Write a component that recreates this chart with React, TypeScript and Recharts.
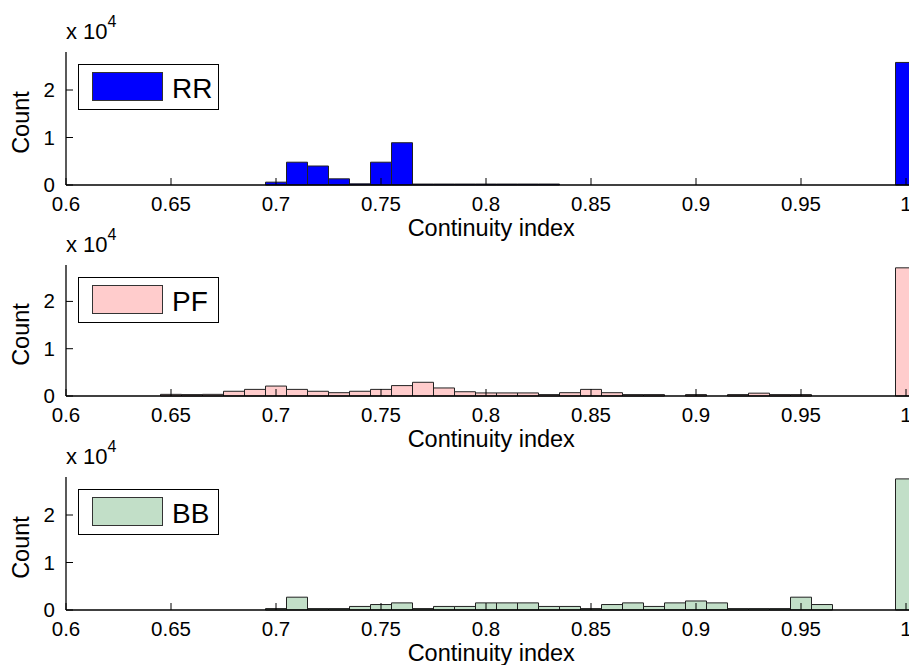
import { BarChart, Bar, XAxis, YAxis, Legend } from "recharts";

// histogram bin centres (bin width 0.01)
const BIN_CENTERS = [
  0.65, 0.66, 0.67, 0.68, 0.69, 0.7, 0.71, 0.72, 0.73, 0.74, 0.75, 0.76,
  0.77, 0.78, 0.79, 0.8, 0.81, 0.82, 0.83, 0.84, 0.85, 0.86, 0.87, 0.88,
  0.89, 0.9, 0.91, 0.92, 0.93, 0.94, 0.95, 0.96, 0.97, 0.98, 0.99, 1.0,
];

const RR_COUNTS = [
  0, 0, 0, 0, 0, 600, 4800, 4000, 1300, 250, 4800, 8900,
  200, 200, 200, 200, 200, 200, 200, 0, 0, 0, 0, 0,
  0, 0, 0, 0, 0, 0, 0, 0, 0, 0, 0, 25800,
];

const PF_COUNTS = [
  350, 300, 350, 1000, 1400, 2100, 1400, 1000, 700, 1000, 1400, 2200,
  2900, 1700, 900, 650, 650, 650, 300, 700, 1400, 700, 300, 300,
  0, 300, 0, 300, 600, 300, 300, 0, 0, 0, 0, 27100,
];

const BB_COUNTS = [
  0, 0, 0, 0, 0, 300, 2700, 300, 300, 750, 1150, 1500,
  300, 750, 750, 1500, 1500, 1500, 750, 750, 300, 1150, 1500, 750,
  1500, 1900, 1500, 300, 300, 300, 2700, 1150, 0, 0, 0, 27600,
];

const X_TICKS = [0.6, 0.65, 0.7, 0.75, 0.8, 0.85, 0.9, 0.95, 1];
const Y_TICKS = [0, 10000, 20000];

const FONT = '"Liberation Sans", Arial, Helvetica, sans-serif';

const PANELS = [
  { name: "RR", counts: RR_COUNTS, fill: "#0000ff", top: 0, plotH: 133, yMax: 28000 },
  { name: "PF", counts: PF_COUNTS, fill: "#ffcccc", top: 213, plotH: 131, yMax: 27700 },
  { name: "BB", counts: BB_COUNTS, fill: "#c2dfc8", top: 425, plotH: 133, yMax: 28000 },
];

const BottomTick = (props: any) => {
  const { x, y, payload } = props;
  return (
    <g>
      <line x1={x} x2={x} y1={y} y2={y - 7} stroke="#000" />
      <text x={x} y={y + 26} textAnchor="middle" fontSize={20.5} fontFamily={FONT} fill="#000">
        {String(payload.value)}
      </text>
    </g>
  );
};

const TopTick = (props: any) => {
  const { x, y } = props;
  return <line x1={x} x2={x} y1={y} y2={y + 7} stroke="#000" />;
};

const LeftTick = (props: any) => {
  const { x, y, payload } = props;
  return (
    <g>
      <line x1={x} x2={x + 7} y1={y} y2={y} stroke="#000" />
      <text x={x - 11} y={y} dy={7} textAnchor="end" fontSize={20.5} fontFamily={FONT} fill="#000">
        {String(payload.value / 10000)}
      </text>
    </g>
  );
};

const XLabel = (props: any) => {
  const { x, y, width } = props.viewBox;
  return (
    <text x={x + width / 2} y={y + 51} textAnchor="middle" fontSize={23.5} fontFamily={FONT} fill="#000">
      Continuity index
    </text>
  );
};

const CountLabel = (props: any) => {
  const { y, height } = props.viewBox;
  const cy = y + height / 2 + 4;
  return (
    <text x={29} y={cy} transform={`rotate(-90, 29, ${cy})`} textAnchor="middle" fontSize={23.5} fontFamily={FONT} fill="#000">
      Count
    </text>
  );
};

function LegendBox({ name, fill }: { name: string; fill: string }) {
  return (
    <div
      style={{
        position: "relative",
        width: 141,
        height: 46,
        boxSizing: "border-box",
        border: "1px solid #000",
        background: "#fff",
      }}
    >
      <div
        style={{
          position: "absolute",
          left: 13,
          top: 7,
          width: 71,
          height: 29,
          boxSizing: "border-box",
          border: "1px solid #333",
          background: fill,
        }}
      />
      <span
        style={{
          position: "absolute",
          left: 93,
          top: 10,
          fontSize: 28,
          lineHeight: "28px",
          fontFamily: FONT,
          color: "#000",
        }}
      >
        {name}
      </span>
    </div>
  );
}

function Panel({ p }: { p: (typeof PANELS)[number] }) {
  const rows = BIN_CENTERS.map((x, i) => ({ x, count: p.counts[i] }));
  return (
    <div style={{ position: "absolute", left: 0, top: p.top }}>
      <BarChart
        width={920}
        height={52 + p.plotH + 60}
        data={rows}
        margin={{ top: 52, right: 3.5, bottom: 0, left: 0 }}
        barCategoryGap={0}
        barGap={0}
      >
        <XAxis
          xAxisId="b"
          type="number"
          dataKey="x"
          domain={[0.6, 1.005]}
          ticks={X_TICKS}
          interval={0}
          tick={BottomTick}
          tickLine={false}
          tickSize={0}
          tickMargin={0}
          height={60}
          axisLine={{ stroke: "#000", strokeWidth: 1.3 }}
          label={XLabel}
        />
        <XAxis
          xAxisId="t"
          orientation="top"
          type="number"
          dataKey="x"
          domain={[0.6, 1.005]}
          ticks={X_TICKS}
          interval={0}
          tick={TopTick}
          tickLine={false}
          tickSize={0}
          tickMargin={0}
          height={0}
          axisLine={{ stroke: "#000", strokeWidth: 1.3 }}
        />
        <YAxis
          type="number"
          domain={[0, p.yMax]}
          ticks={Y_TICKS}
          interval={0}
          width={66}
          tick={LeftTick}
          tickLine={false}
          tickSize={0}
          tickMargin={0}
          axisLine={{ stroke: "#000", strokeWidth: 1.3 }}
          label={CountLabel}
        />
        <Legend
          layout="vertical"
          verticalAlign="middle"
          align="center"
          wrapperStyle={{ left: 78, top: 64, width: "auto", height: "auto" }}
          content={() => <LegendBox name={p.name} fill={p.fill} />}
        />
        <Bar
          xAxisId="b"
          dataKey="count"
          fill={p.fill}
          stroke="#222"
          strokeWidth={1}
          isAnimationActive={false}
        />
        <text x={66} y={39} fontSize={22} fontFamily={FONT} fill="#000">
          x 10
          <tspan dy={-12} fontSize={16}>
            4
          </tspan>
        </text>
      </BarChart>
    </div>
  );
}

export default function App() {
  return (
    <div
      style={{
        position: "fixed",
        left: 0,
        top: 0,
        width: 909,
        height: 665,
        overflow: "hidden",
        background: "#fff",
      }}
    >
      {PANELS.map((p) => (
        <Panel key={p.name} p={p} />
      ))}
    </div>
  );
}
